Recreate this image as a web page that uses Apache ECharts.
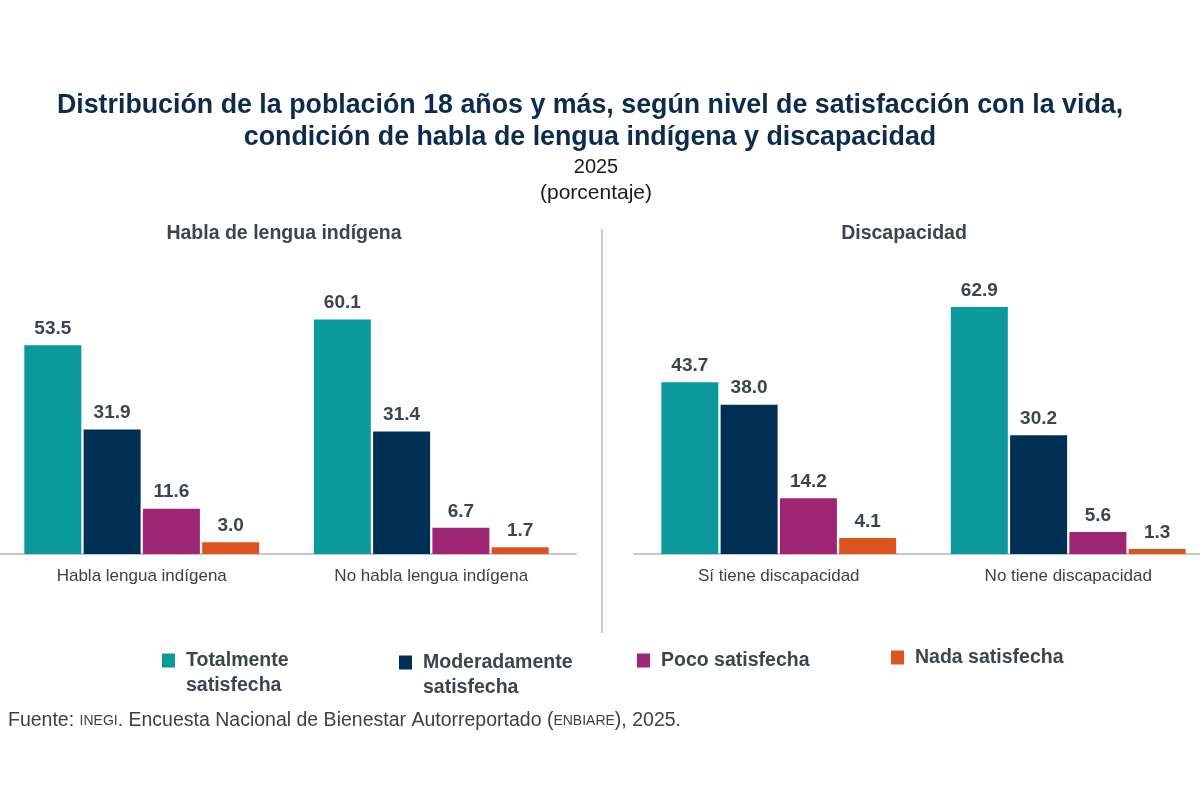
<!DOCTYPE html>
<html>
<head>
<meta charset="utf-8">
<script src="https://cdn.jsdelivr.net/npm/echarts@6/dist/echarts.min.js"></script>
<style>
html,body{margin:0;padding:0;background:#fff;overflow:hidden;width:1200px;height:800px;}
#chart{position:absolute;left:-20px;top:0;width:1250px;height:800px;}
</style>
</head>
<body>
<div id="chart"></div>
<script>
// ---- Data ----
const levels = ['Totalmente satisfecha', 'Moderadamente satisfecha', 'Poco satisfecha', 'Nada satisfecha'];
const legendLabels = ['Totalmente\nsatisfecha', 'Moderadamente\nsatisfecha', 'Poco satisfecha', 'Nada satisfecha'];
const lenguaCats = ['Habla lengua indígena', 'No habla lengua indígena'];
const discCats = ['Sí tiene discapacidad', 'No tiene discapacidad'];

const totalmenteLengua = [53.5, 60.1];
const moderadaLengua = [31.9, 31.4];
const pocoLengua = [11.6, 6.7];
const nadaLengua = [3.0, 1.7];

const totalmenteDisc = [43.7, 62.9];
const moderadaDisc = [38.0, 30.2];
const pocoDisc = [14.2, 5.6];
const nadaDisc = [4.1, 1.3];

const lenguaSeries = [totalmenteLengua, moderadaLengua, pocoLengua, nadaLengua];
const discSeries = [totalmenteDisc, moderadaDisc, pocoDisc, nadaDisc];

const colors = ['#0b999b', '#002f56', '#9e2474', '#dc5521'];
const FONT = '"Liberation Sans", Arial, sans-serif';
const labelColor = '#3d4450';
const OFF = 20; // chart canvas is shifted left by OFF px

const chart = echarts.init(document.getElementById('chart'), null, {renderer: 'canvas'});

function makeSeries(dataArr, idx) {
  return dataArr.map((d, i) => ({
    name: levels[i],
    type: 'bar',
    xAxisIndex: idx,
    yAxisIndex: idx,
    data: d,
    barWidth: 57,
    barGap: '4%',
    itemStyle: {color: colors[i]},
    label: {
      show: true,
      position: 'top',
      distance: 7,
      formatter: p => p.value.toFixed(1),
      fontFamily: FONT,
      fontSize: 19,
      fontWeight: 'bold',
      color: labelColor
    }
  }));
}

const xAxisCommon = {
  type: 'category',
  axisTick: {show: false},
  axisLine: {show: true, lineStyle: {color: '#c3c7cc', width: 2}},
  axisLabel: {fontFamily: FONT, fontSize: 17, color: '#404040', margin: 14}
};
const yAxisCommon = {
  type: 'value', min: 0, max: 70, show: false,
  splitLine: {show: false}
};

// legend: icon left x, top
const legendPos = [
  {left: 162, top: 623},
  {left: 399, top: 625},
  {left: 637, top: 648},
  {left: 891, top: 645}
];

const legends = levels.map((name, i) => {
  const multi = legendLabels[i].indexOf('\n') >= 0;
  return {
    data: [name],
    left: legendPos[i].left + OFF,
    top: legendPos[i].top,
    padding: 0,
    orient: 'horizontal',
    itemWidth: 13,
    itemHeight: 14,
    icon: 'rect',
    selectedMode: false,
    // multi-line labels get an empty leading line so the first text line sits beside the icon
    formatter: () => multi ? '\u00a0\n' + legendLabels[i] : legendLabels[i],
    textStyle: {
      fontFamily: FONT,
      fontSize: 19.5,
      fontWeight: 'bold',
      color: '#3d4450',
      lineHeight: 25,
      padding: [0, 0, 0, 6]
    }
  };
});

const option = {
  backgroundColor: '#ffffff',
  animation: false,
  legend: legends,
  grid: [
    {left: -3 + OFF, width: 579, top: 281, height: 273, containLabel: false},
    {left: 634 + OFF, width: 579, top: 279, height: 275, containLabel: false}
  ],
  xAxis: [
    Object.assign({}, xAxisCommon, {gridIndex: 0, data: lenguaCats}),
    Object.assign({}, xAxisCommon, {gridIndex: 1, data: discCats})
  ],
  yAxis: [
    Object.assign({}, yAxisCommon, {gridIndex: 0}),
    Object.assign({}, yAxisCommon, {gridIndex: 1})
  ],
  series: makeSeries(lenguaSeries, 0).concat(makeSeries(discSeries, 1)),
  graphic: [
    {type: 'text', x: 590 + OFF, y: 106, style: {text: 'Distribución de la población 18 años y más, según nivel de satisfacción con la vida,', font: 'bold 26.8px ' + FONT, fill: '#0d2b4d', textAlign: 'center', textVerticalAlign: 'middle'}},
    {type: 'text', x: 590 + OFF, y: 138, style: {text: 'condición de habla de lengua indígena y discapacidad', font: 'bold 26.8px ' + FONT, fill: '#0d2b4d', textAlign: 'center', textVerticalAlign: 'middle'}},
    {type: 'text', x: 596 + OFF, y: 167, style: {text: '2025', font: '20px ' + FONT, fill: '#1a1a1a', textAlign: 'center', textVerticalAlign: 'middle'}},
    {type: 'text', x: 596 + OFF, y: 193, style: {text: '(porcentaje)', font: '21px ' + FONT, fill: '#1a1a1a', textAlign: 'center', textVerticalAlign: 'middle'}},
    {type: 'text', x: 284 + OFF, y: 234, style: {text: 'Habla de lengua indígena', font: 'bold 19.5px ' + FONT, fill: '#3d4450', textAlign: 'center', textVerticalAlign: 'middle'}},
    {type: 'text', x: 904 + OFF, y: 234, style: {text: 'Discapacidad', font: 'bold 19.5px ' + FONT, fill: '#3d4450', textAlign: 'center', textVerticalAlign: 'middle'}},
    {type: 'line', shape: {x1: 602 + OFF, y1: 229, x2: 602 + OFF, y2: 633}, style: {stroke: '#c8cdd3', lineWidth: 2}},
    {type: 'text', x: 8 + OFF, y: 721, style: {
      text: 'Fuente: {s|INEGI}. Encuesta Nacional de Bienestar Autorreportado ({s|ENBIARE}), 2025.',
      font: '19.5px ' + FONT, fill: '#404040', textVerticalAlign: 'middle',
      rich: {s: {fontSize: 14, fontFamily: FONT, fill: '#404040'}}
    }}
  ]
};

chart.setOption(option);
</script>
</body>
</html>
